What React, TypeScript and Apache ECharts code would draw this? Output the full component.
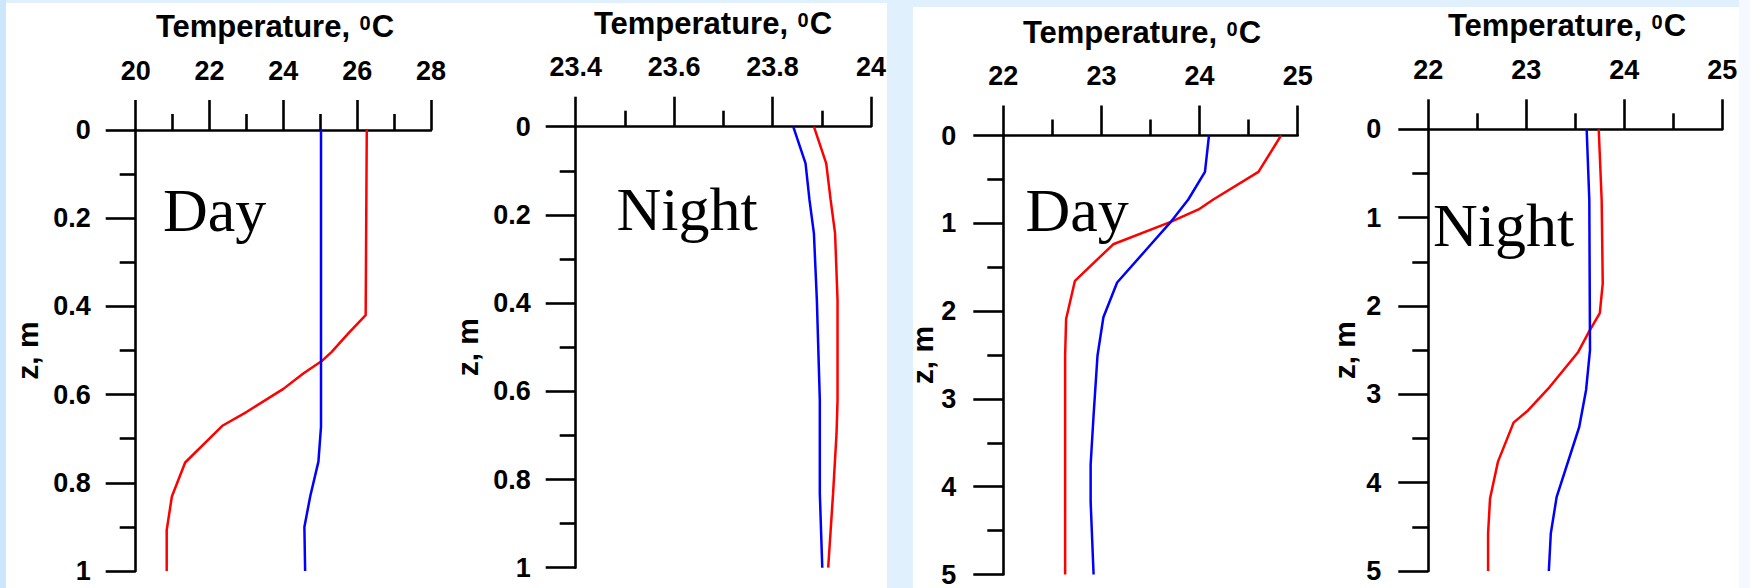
import React, { useEffect, useRef } from "react";
import * as echarts from "echarts";

// ---------- data (temperature in °C, depth z in m) ----------
// Panel 1: Day, 0–1 m
const p1RedZ = [0, 0.42, 0.461, 0.503, 0.524, 0.552, 0.587, 0.639, 0.67, 0.754, 0.831, 0.907, 1.0];
const p1RedT = [26.26, 26.23, 25.76, 25.31, 25.04, 24.54, 24.0, 23.01, 22.36, 21.34, 20.98, 20.84, 20.84];
const p1BlueZ = [0, 0.42, 0.673, 0.752, 0.83, 0.9, 1.0];
const p1BlueT = [25.02, 25.02, 25.02, 24.95, 24.73, 24.57, 24.59];

// Panel 2: Night, 0–1 m
const p2RedZ = [0, 0.083, 0.166, 0.242, 0.393, 0.62, 0.695, 0.831, 1.0];
const p2RedT = [23.884, 23.909, 23.918, 23.927, 23.932, 23.932, 23.93, 23.923, 23.913];
const p2BlueZ = [0, 0.083, 0.166, 0.242, 0.393, 0.62, 0.831, 1.0];
const p2BlueT = [23.842, 23.867, 23.875, 23.884, 23.89, 23.896, 23.896, 23.901];

// Panel 3: Day, 0–5 m
const p3RedZ = [0, 0.415, 0.729, 0.842, 0.986, 1.239, 1.655, 2.09, 2.506, 5.0];
const p3RedT = [24.83, 24.6, 24.14, 23.99, 23.7, 23.12, 22.73, 22.64, 22.63, 22.63];
const p3BlueZ = [0, 0.415, 0.729, 0.993, 1.296, 1.674, 2.07, 2.506, 3.186, 3.75, 4.17, 5.0];
const p3BlueT = [24.096, 24.055, 23.885, 23.7, 23.46, 23.16, 23.02, 22.96, 22.92, 22.89, 22.89, 22.92];

// Panel 4: Night, 0–5 m
const p4RedZ = [0, 0.8, 1.744, 2.08, 2.29, 2.52, 2.915, 3.18, 3.32, 3.765, 4.18, 4.575, 5.0];
const p4RedT = [23.739, 23.769, 23.78, 23.75, 23.64, 23.53, 23.24, 23.02, 22.87, 22.71, 22.63, 22.61, 22.61];
const p4BlueZ = [0, 0.8, 2.5, 2.95, 3.37, 4.16, 4.575, 5.0];
const p4BlueT = [23.616, 23.643, 23.65, 23.61, 23.54, 23.31, 23.25, 23.23];

// axis ranges
const xMins = [20, 23.4, 22, 22];
const xMaxs = [28, 24, 25, 25];
const xSteps = [2, 0.2, 1, 1];
const yMaxs = [1, 1, 5, 5];
const ySteps = [0.2, 0.2, 1, 1];
const panelLabels = ["Day", "Night", "Day", "Night"];
const xTitle = "Temperature, ";
const yTitle = "z, m";

const redSets = [
  [p1RedT, p1RedZ],
  [p2RedT, p2RedZ],
  [p3RedT, p3RedZ],
  [p4RedT, p4RedZ],
];
const blueSets = [
  [p1BlueT, p1BlueZ],
  [p2BlueT, p2BlueZ],
  [p3BlueT, p3BlueZ],
  [p4BlueT, p4BlueZ],
];

// ---------- layout ----------
const grids = [
  { left: 135.7, top: 130, width: 295.3, height: 441 },
  { left: 575.7, top: 126.7, width: 295.3, height: 441 },
  { left: 1003.3, top: 135.5, width: 294.4, height: 441 },
  { left: 1428.3, top: 129.3, width: 294, height: 441.7 },
];
const yNameGaps = [93, 93, 55, 69];
const titlePos = [
  [275, 26],
  [713, 23],
  [1142, 32],
  [1567, 25.5],
];
const labelPos = [
  [163, 209.5],
  [616.5, 209],
  [1025.5, 209.5],
  [1433, 224.5],
];

const SANS = 'Arial, "Liberation Sans", Helvetica, sans-serif';
const SERIF = '"Times New Roman", "Liberation Serif", serif';

const zip = (t: number[], z: number[]) => t.map((v, i) => [v, z[i]]);

export default function App() {
  const ref = useRef<HTMLDivElement>(null);
  useEffect(() => {
    const chart = echarts.init(ref.current!, undefined, {
      renderer: "svg",
      width: 1750,
      height: 588,
    });
    const axisLine = { show: true, onZero: false, lineStyle: { color: "#000", width: 2.6 } };
    const axisTick = { show: true, inside: false, length: 30, lineStyle: { color: "#000", width: 2.6 } };
    const minorTick = { show: true, splitNumber: 2, length: 16, lineStyle: { color: "#000", width: 2.6 } };
    const labelStyle = { color: "#000", fontSize: 27, fontWeight: "bold", fontFamily: SANS };

    const option: any = {
      animation: false,
      backgroundColor: "#e0f0fc",
      grid: grids.map((g) => ({ ...g, containLabel: false })),
      xAxis: grids.map((_, i) => ({
        gridIndex: i,
        type: "value",
        position: "top",
        min: xMins[i],
        max: xMaxs[i],
        interval: xSteps[i],
        axisLine,
        axisTick,
        minorTick,
        splitLine: { show: false },
        minorSplitLine: { show: false },
        axisLabel: { ...labelStyle, margin: 46 },
      })),
      yAxis: grids.map((_, i) => ({
        gridIndex: i,
        type: "value",
        position: "left",
        inverse: true,
        min: 0,
        max: yMaxs[i],
        interval: ySteps[i],
        axisLine,
        axisTick,
        minorTick,
        splitLine: { show: false },
        minorSplitLine: { show: false },
        axisLabel: { ...labelStyle, margin: i < 2 ? 45 : 47 },
        name: yTitle,
        nameLocation: "middle",
        nameRotate: 90,
        nameGap: yNameGaps[i],
        nameTextStyle: { color: "#000", fontSize: 30, fontWeight: "bold", fontFamily: SANS },
      })),
      series: [
        ...redSets.map(([t, z], i) => ({
          type: "line",
          xAxisIndex: i,
          yAxisIndex: i,
          data: zip(t, z),
          showSymbol: false,
          symbol: "none",
          lineStyle: { color: "#ff0000", width: 2.5 },
          z: 3,
        })),
        ...blueSets.map(([t, z], i) => ({
          type: "line",
          xAxisIndex: i,
          yAxisIndex: i,
          data: zip(t, z),
          showSymbol: false,
          symbol: "none",
          lineStyle: { color: "#0000ff", width: 2.5 },
          z: 3,
        })),
      ],
      graphic: [
        { type: "rect", silent: true, z: -10, shape: { x: 0, y: 0, width: 6, height: 588 }, style: { fill: "#cce7fc" } },
        { type: "rect", silent: true, z: -10, shape: { x: 6, y: 3, width: 881, height: 585 }, style: { fill: "#ffffff" } },
        { type: "rect", silent: true, z: -10, shape: { x: 913, y: 7, width: 826, height: 581 }, style: { fill: "#ffffff" } },
        { type: "rect", silent: true, z: -10, shape: { x: 1739, y: 0, width: 11, height: 588 }, style: { fill: "#f5f9fe" } },
        ...titlePos.map(([x, y]) => ({
          type: "text",
          silent: true,
          z: 5,
          x,
          y,
          style: {
            text: xTitle + "{sup|0}C",
            fill: "#000",
            fontSize: 31,
            fontWeight: "bold",
            fontFamily: SANS,
            align: "center",
            verticalAlign: "middle",
            rich: {
              sup: {
                fontSize: 20,
                fontWeight: "bold",
                fontFamily: SANS,
                fill: "#000",
                verticalAlign: "top",
                padding: [2, 1, 0, 1],
              },
            },
          },
        })),
        ...labelPos.map(([x, y], i) => ({
          type: "text",
          silent: true,
          z: 5,
          x,
          y,
          style: {
            text: panelLabels[i],
            fill: "#000",
            fontSize: 62,
            fontFamily: SERIF,
            align: "left",
            verticalAlign: "middle",
          },
        })),
      ],
    };
    chart.setOption(option);
    return () => chart.dispose();
  }, []);
  return (
    <div
      ref={ref}
      style={{ position: "absolute", left: 0, top: 0, width: 1750, height: 588 }}
    />
  );
}
